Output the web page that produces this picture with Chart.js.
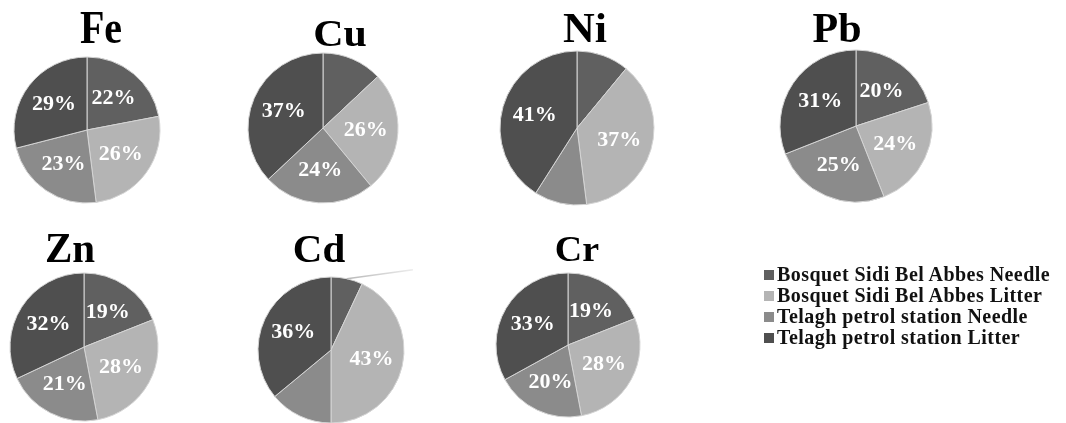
<!DOCTYPE html>
<html>
<head>
<meta charset="utf-8">
<script src="https://cdn.jsdelivr.net/npm/chart.js@4.4.1/dist/chart.umd.min.js"></script>
<style>
  html, body { margin: 0; padding: 0; background: #fff; }
  #stage { position: relative; width: 1066px; height: 423px; overflow: hidden; background: #fff; }
  canvas.pie { position: absolute; }
  .ttl {
    position: absolute; white-space: nowrap; color: #000;
    font-family: "Liberation Serif", "Times New Roman", serif; font-weight: bold;
    line-height: 1;
  }
  #legend { position: absolute; left: 764px; top: 264px; }
  #legend .row { display: flex; align-items: center; height: 21px; }
  #legend .sw { width: 10px; height: 10px; margin-right: 3px; flex: none; }
  #legend .lbl {
    font-family: "Liberation Serif", "Times New Roman", serif; font-weight: bold;
    font-size: 20px; color: #111; white-space: nowrap; letter-spacing: 0.45px;
  }
</style>
</head>
<body>
<div id="stage"></div>
<script>
// Series (slice order, clockwise from 12 o'clock)
const seriesNames = [
  'Bosquet Sidi Bel Abbes Needle',
  'Bosquet Sidi Bel Abbes Litter',
  'Telagh petrol station Needle',
  'Telagh petrol station Litter'
];

// Metals and their percentage shares per series
const metals = ['Fe', 'Cu', 'Ni', 'Pb', 'Zn', 'Cd', 'Cr'];
const Fe = [22, 26, 23, 29];
const Cu = [13, 26, 24, 37];
const Ni = [11, 37, 11, 41];
const Pb = [20, 24, 25, 31];
const Zn = [19, 28, 21, 32];
const Cd = [7, 43, 14, 36];
const Cr = [19, 28, 20, 33];
const shares = { Fe, Cu, Ni, Pb, Zn, Cd, Cr };

// Slices smaller than this carry no label
const labelMin = 15;

// Colours of the four series
const palette = ['#606060', '#b4b4b4', '#8b8b8b', '#4f4f4f'];

// Panel placement: pie centre/radius and title placement (centre x, baseline y, size, vertical stretch)
const layout = {
  Fe: { cx: 87,  cy: 130, r: 73, tx: 101, ty: 43,  fs: 40, sy: 1.15 },
  Cu: { cx: 323, cy: 128, r: 75, tx: 340, ty: 46,  fs: 42, sy: 0.92 },
  Ni: { cx: 577, cy: 128, r: 77, tx: 585, ty: 43,  fs: 44, sy: 0.97 },
  Pb: { cx: 856, cy: 126, r: 76, tx: 837, ty: 42,  fs: 42, sy: 1.02 },
  Zn: { cx: 84,  cy: 347, r: 74, tx: 70,  ty: 262, fs: 41, sy: 1.04 },
  Cd: { cx: 331, cy: 350, r: 73, tx: 319, ty: 262, fs: 41, sy: 0.97 },
  Cr: { cx: 568, cy: 345, r: 72, tx: 577, ty: 261, fs: 38, sy: 0.95 }
};
const margin = 100;

// White percentage labels inside the larger slices
const sliceLabels = {
  id: 'sliceLabels',
  afterDatasetsDraw(chart) {
    const ctx = chart.ctx;
    const meta = chart.getDatasetMeta(0);
    const data = chart.data.datasets[0].data;
    ctx.save();
    ctx.fillStyle = '#ffffff';
    ctx.font = 'bold 22px "Liberation Serif", "Times New Roman", serif';
    ctx.textAlign = 'center';
    ctx.textBaseline = 'middle';
    meta.data.forEach((arc, i) => {
      if (data[i] < labelMin) return;
      const p = arc.getProps(['x', 'y', 'startAngle', 'endAngle', 'outerRadius'], true);
      const mid = (p.startAngle + p.endAngle) / 2;
      const d = p.outerRadius * 0.57;
      ctx.fillText(data[i] + '%', p.x + Math.cos(mid) * d, p.y + Math.sin(mid) * d);
    });
    ctx.restore();
  }
};

// Faint leader line leaving the first slice (used on the Cd pie)
const leaderLine = {
  id: 'leaderLine',
  afterDatasetsDraw(chart, args, opts) {
    if (!opts || !opts.show) return;
    const arc = chart.getDatasetMeta(0).data[0];
    const p = arc.getProps(['x', 'y', 'startAngle', 'endAngle', 'outerRadius'], true);
    const mid = (p.startAngle + p.endAngle) / 2;
    const x0 = p.x + Math.cos(mid) * p.outerRadius;
    const y0 = p.y + Math.sin(mid) * p.outerRadius;
    const ctx = chart.ctx;
    ctx.save();
    const g = ctx.createLinearGradient(x0, y0, x0 + opts.dx, y0 + opts.dy);
    g.addColorStop(0, '#b8b8b8');
    g.addColorStop(1, '#ececec');
    ctx.strokeStyle = g;
    ctx.lineWidth = 1.4;
    ctx.beginPath();
    ctx.moveTo(x0, y0);
    ctx.lineTo(x0 + opts.dx, y0 + opts.dy);
    ctx.stroke();
    ctx.restore();
  }
};

const stage = document.getElementById('stage');

metals.forEach(name => {
  const L = layout[name];
  const size = 2 * L.r + 2 * margin;
  const cv = document.createElement('canvas');
  cv.className = 'pie';
  cv.width = size; cv.height = size;
  cv.style.width = size + 'px'; cv.style.height = size + 'px';
  cv.style.left = (L.cx - L.r - margin) + 'px';
  cv.style.top = (L.cy - L.r - margin) + 'px';
  stage.appendChild(cv);

  new Chart(cv, {
    type: 'pie',
    data: {
      labels: seriesNames,
      datasets: [{
        data: shares[name],
        backgroundColor: palette,
        borderColor: '#d4d4d4',
        borderWidth: 1
      }]
    },
    options: {
      responsive: false,
      animation: false,
      events: [],
      radius: L.r,
      layout: { padding: 0 },
      plugins: {
        legend: { display: false },
        tooltip: { enabled: false },
        title: { display: false },
        leaderLine: { show: name === 'Cd', dx: 66, dy: -9 }
      }
    },
    plugins: [sliceLabels, leaderLine]
  });

  // Metal title above each pie
  const t = document.createElement('div');
  t.className = 'ttl';
  t.textContent = name;
  t.style.fontSize = L.fs + 'px';
  const baseOff = 0.8375 * L.fs;
  t.style.left = L.tx + 'px';
  t.style.top = (L.ty - baseOff) + 'px';
  t.style.transformOrigin = '0 ' + baseOff + 'px';
  t.style.transform = 'translateX(-50%) scaleY(' + L.sy + ')';
  stage.appendChild(t);
});

// Shared legend
const legend = document.createElement('div');
legend.id = 'legend';
seriesNames.forEach((s, i) => {
  const row = document.createElement('div');
  row.className = 'row';
  const sw = document.createElement('span');
  sw.className = 'sw';
  sw.style.background = palette[i];
  const lb = document.createElement('span');
  lb.className = 'lbl';
  lb.textContent = s;
  row.appendChild(sw);
  row.appendChild(lb);
  legend.appendChild(row);
});
stage.appendChild(legend);
</script>
</body>
</html>
